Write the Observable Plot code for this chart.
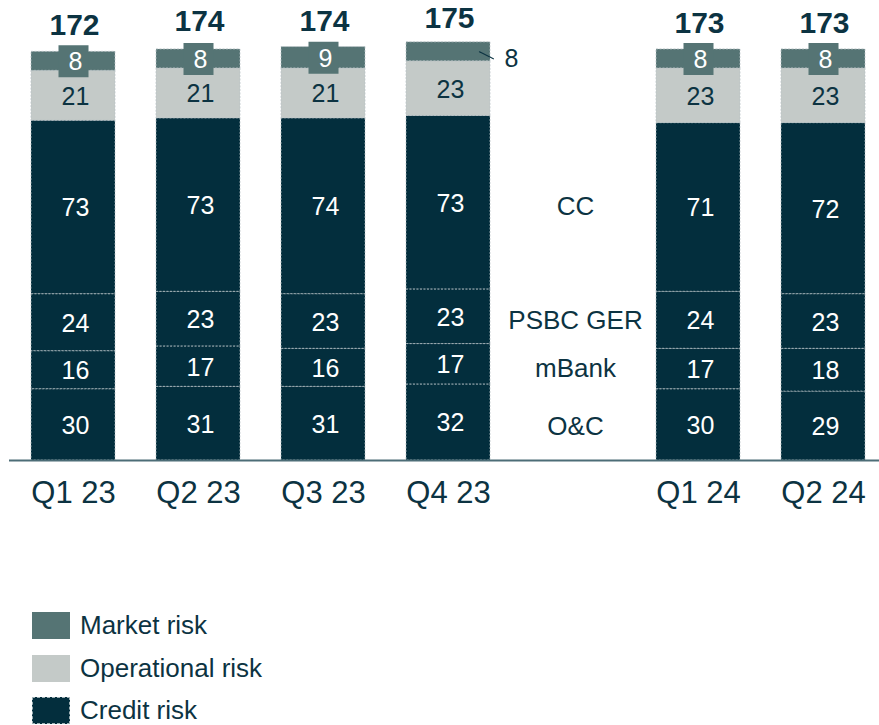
<!DOCTYPE html>
<html>
<head>
<meta charset="utf-8">
<script src="https://cdn.jsdelivr.net/npm/d3@7"></script>
<script src="https://cdn.jsdelivr.net/npm/@observablehq/plot@0.6"></script>
<style>
  html, body { margin: 0; padding: 0; background: #fff; }
  body { width: 879px; height: 725px; overflow: hidden; font-family: "Liberation Sans", Arial, sans-serif; }
  #chart svg { display: block; }
  .legend { position: absolute; left: 32px; top: 612px; }
  .legend .row { display: flex; align-items: center; height: 27px; margin-bottom: 15.5px; }
  .legend .sw { width: 38px; height: 27px; box-sizing: border-box; margin-right: 10px; }
  .legend span { font-size: 26px; color: #0c3342; line-height: 27px; }
</style>
</head>
<body>
<div id="chart"></div>
<div class="legend" id="legend"></div>
<script>
// ---- data ----
const quarters = ["Q1 23", "Q2 23", "Q3 23", "Q4 23", "Q1 24", "Q2 24"];
const gapSlot = " ";
const oc = [30, 31, 31, 32, 30, 29];
const mbank = [16, 17, 16, 17, 17, 18];
const psbc = [24, 23, 23, 23, 24, 23];
const cc = [73, 73, 74, 73, 71, 72];
const operational = [21, 21, 21, 23, 23, 23];
const market = [8, 8, 9, 8, 8, 8];
const totals = [172, 174, 174, 175, 173, 173];
const creditParts = ["O&C", "mBank", "PSBC GER", "CC"];
const legendLabels = ["Market risk", "Operational risk", "Credit risk"];
const outsideMarketLabel = "Q4 23";
const labelRefQuarter = "Q4 23";

// ---- styles ----
const C_CREDIT = "#032e3d";
const C_OP = "#c4cac8";
const C_MARKET = "#557474";
const C_TEXT = "#0c3342";

// ---- table ----
const seriesDefs = [
  {key: "O&C", vals: oc, risk: "Credit risk"},
  {key: "mBank", vals: mbank, risk: "Credit risk"},
  {key: "PSBC GER", vals: psbc, risk: "Credit risk"},
  {key: "CC", vals: cc, risk: "Credit risk"},
  {key: "Operational", vals: operational, risk: "Operational risk"},
  {key: "Market", vals: market, risk: "Market risk"}
];
const rows = [];
quarters.forEach((q, i) => {
  seriesDefs.forEach(s => rows.push({quarter: q, series: s.key, risk: s.risk, value: s.vals[i]}));
});
const totalRows = quarters.map((q, i) => ({quarter: q, total: totals[i]}));

// side labels at the midpoints of the reference quarter's credit segments
const ri = quarters.indexOf(labelRefQuarter);
let acc = 0;
const sideLabels = creditParts.map(name => {
  const v = seriesDefs.find(s => s.key === name).vals[ri];
  const mid = acc + v / 2; acc += v;
  return {name, mid};
});

const colorScale = {domain: ["Market risk", "Operational risk", "Credit risk"], range: [C_MARKET, C_OP, C_CREDIT]};
const boxSymbol = {draw(ctx) { ctx.rect(-15, -16, 30, 32); }};
const tickShape = {draw(ctx, l) { ctx.moveTo(0, 0); ctx.lineTo(0, -l); }};

const stackOpts = {x: "quarter", y: "value"};
const isMarketIn = d => d.series === "Market" && d.quarter !== outsideMarketLabel;
const isMarketOut = d => d.series === "Market" && d.quarter === outsideMarketLabel;

const plot = Plot.plot({
  width: 879,
  height: 525,
  marginLeft: 9,
  marginRight: 0,
  marginTop: 0,
  marginBottom: 65,
  style: {fontFamily: "'Liberation Sans', Arial, sans-serif", background: "#fff", color: C_TEXT},
  x: {domain: [...quarters.slice(0, 4), gapSlot, ...quarters.slice(4)], range: [30, 866], paddingInner: 0.33, paddingOuter: 0, label: null},
  y: {domain: [0, 193.6], axis: null},
  color: colorScale,
  marks: [
    Plot.barY(rows, Plot.stackY({...stackOpts, fill: "risk", stroke: "#b9c3c6", strokeOpacity: 0.85, strokeWidth: 0.9, strokeDasharray: "2,1.5", inset: 0})),
    // market label boxes
    Plot.dot(rows, Plot.filter(isMarketIn, Plot.stackY({...stackOpts, symbol: boxSymbol, r: 10, fill: C_MARKET, stroke: "none"}))),
    // segment labels
    Plot.text(rows, Plot.filter(d => !isMarketOut(d), Plot.stackY({...stackOpts, text: d => String(d.value),
      fill: d => d.series === "Operational" ? C_TEXT : "#ffffff", fontSize: 25, dx: 2, dy: 1}))),
    // outside market label + leader
    Plot.vector(rows, Plot.filter(isMarketOut, Plot.stackY({...stackOpts,
      length: 15.5, rotate: 116.6, anchor: "start", shape: tickShape, stroke: C_TEXT, strokeWidth: 1.2, dx: 31}))),
    Plot.text(rows, Plot.filter(isMarketOut, Plot.stackY({...stackOpts,
      text: d => String(d.value), fill: C_TEXT, fontSize: 25, textAnchor: "start", dx: 56, dy: 7}))),
    // totals
    Plot.text(totalRows, {x: "quarter", y: "total", text: d => String(d.total), fontSize: 30, fontWeight: "bold", fill: C_TEXT, dy: -26, dx: 1}),
    // side category labels
    Plot.text(sideLabels, {x: () => gapSlot, y: "mid", text: "name", fontSize: 26, fill: C_TEXT, dy: 4, dx: 2}),
    // baseline
    Plot.ruleY([0], {stroke: "#4d6d77", strokeWidth: 2}),
    Plot.axisX({tickSize: 0, tickPadding: 20, fontSize: 31, color: C_TEXT, tickFormat: d => d.trim()})
  ]
});
document.getElementById("chart").appendChild(plot);

// legend
const legend = document.getElementById("legend");
legendLabels.forEach((lab, i) => {
  const row = document.createElement("div");
  row.className = "row";
  const sw = document.createElement("div");
  sw.className = "sw";
  sw.style.background = colorScale.range[i];
  if (lab === "Credit risk") sw.style.border = "1px dashed #9fb0b5";
  const t = document.createElement("span");
  t.textContent = lab;
  row.appendChild(sw); row.appendChild(t);
  legend.appendChild(row);
});
</script>
</body>
</html>
